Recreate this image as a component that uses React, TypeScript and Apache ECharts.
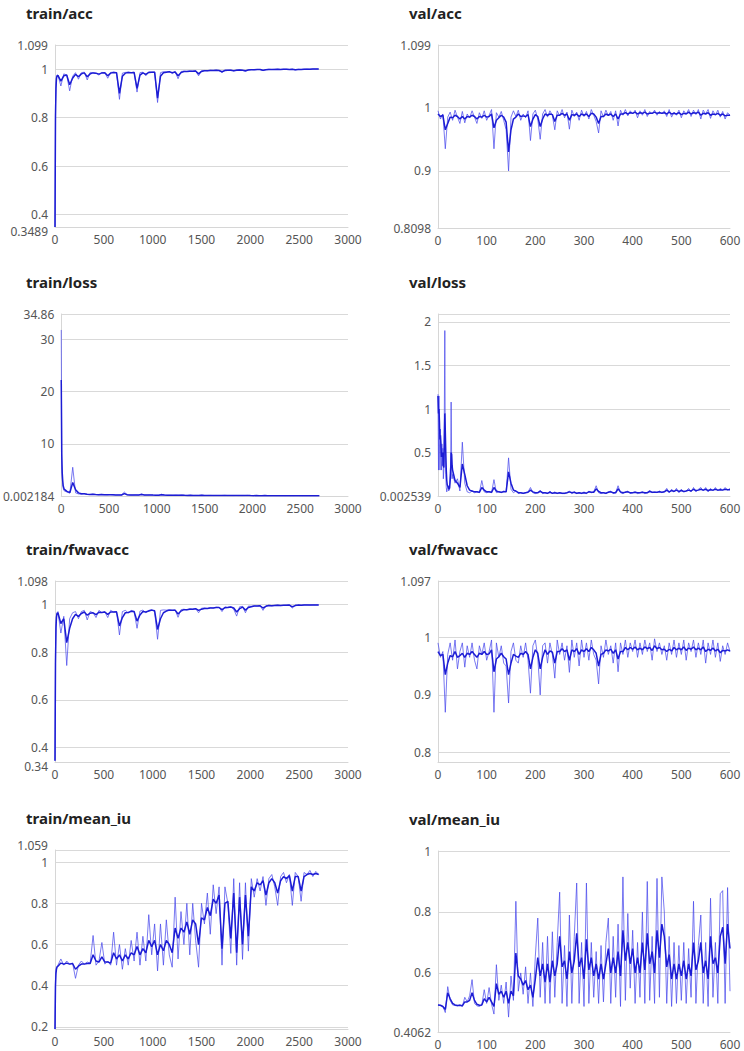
import React, { useEffect, useRef } from "react";
import * as echarts from "echarts";

const steps = (a: number, b: number, s: number): number[] => {
  const r: number[] = [];
  for (let v = a; v <= b + 1e-9; v += s) r.push(v);
  return r;
};

// x grids (step / epoch numbers)
const TRAIN_STEPS = [0, 5, 10, 15, 20, ...steps(30, 2700, 30)];
const VAL_EPOCHS = steps(0, 600, 5);
const VAL_LOSS_EPOCHS = [...steps(0, 30, 1), ...steps(35, 600, 5)];

// ---------- train/acc ----------
const trainAccRaw = [
  0.3489, 0.85, 0.94, 0.97, 0.975,
  0.975, 0.93, 0.98, 0.975, 0.91, 0.97, 0.985, 0.958, 0.985, 0.987,
  0.955, 0.986, 0.985, 0.982, 0.975, 0.986, 0.985, 0.962, 0.986, 0.987,
  0.985, 0.875, 0.983, 0.986, 0.987, 0.985, 0.987, 0.905, 0.985, 0.987,
  0.972, 0.988, 0.987, 0.988, 0.862, 0.985, 0.989, 0.988, 0.99, 0.981,
  0.99, 0.96, 0.99, 0.991, 0.99, 0.992, 0.991, 0.993, 0.972, 0.993,
  0.994, 0.993, 0.995, 0.994, 0.995, 0.994, 0.985, 0.996, 0.995, 0.996,
  0.992, 0.996, 0.997, 0.995, 0.99, 0.997, 0.998, 0.997, 0.998, 0.998,
  0.993, 0.998, 0.999, 0.998, 0.999, 0.999, 0.998, 0.999, 0.999, 0.998,
  0.999, 0.996, 0.999, 0.998, 0.999, 1.0, 0.999, 1.0, 1.0, 1.0,
];
const trainAccSmooth = [
  0.3489, 0.8, 0.92, 0.96, 0.97,
  0.974, 0.95, 0.972, 0.975, 0.935, 0.962, 0.978, 0.968, 0.98, 0.984,
  0.968, 0.98, 0.984, 0.983, 0.979, 0.984, 0.985, 0.972, 0.983, 0.986,
  0.985, 0.9, 0.97, 0.983, 0.986, 0.985, 0.986, 0.92, 0.975, 0.984,
  0.978, 0.986, 0.987, 0.987, 0.88, 0.97, 0.985, 0.987, 0.989, 0.985,
  0.988, 0.972, 0.985, 0.99, 0.99, 0.991, 0.991, 0.992, 0.98, 0.99,
  0.993, 0.993, 0.994, 0.994, 0.995, 0.994, 0.989, 0.994, 0.995, 0.995,
  0.993, 0.995, 0.996, 0.995, 0.993, 0.996, 0.997, 0.997, 0.998, 0.998,
  0.995, 0.997, 0.998, 0.998, 0.998, 0.999, 0.998, 0.999, 0.999, 0.998,
  0.999, 0.997, 0.998, 0.998, 0.999, 0.999, 0.999, 1.0, 1.0, 1.0,
];
const trainAccLabels = [0.3489, 0.4, 0.6, 0.8, 1, 1.099];

// ---------- val/acc ----------
const valAccRaw = [
  0.995, 0.982, 0.99, 0.935, 0.985, 0.993, 0.98, 0.996, 0.985, 0.975,
  0.994, 0.976, 0.99, 0.984, 0.995, 0.985, 0.975, 0.992, 0.983, 0.995,
  0.98, 0.988, 0.997, 0.935, 0.992, 0.985, 0.994, 0.98, 0.965, 0.9,
  0.985, 0.995, 0.986, 0.996, 0.98, 0.99, 0.984, 0.995, 0.948, 0.99,
  0.996, 0.982, 0.95, 0.99, 0.997, 0.985, 0.995, 0.988, 0.965, 0.995,
  0.987, 0.997, 0.984, 0.993, 0.966, 0.996, 0.986, 0.993, 0.98, 0.996,
  0.986, 0.994, 0.982, 0.997, 0.988, 0.978, 0.96, 0.995, 0.985, 0.996,
  0.987, 0.994, 0.98, 0.995, 0.971, 0.996, 0.988, 0.997, 0.987, 0.995,
  0.99, 0.996, 0.984, 0.995, 0.988, 0.997, 0.986, 0.994, 0.99, 0.996,
  0.988, 0.994, 0.99, 0.995, 0.986, 0.997, 0.985, 0.993, 0.988, 0.996,
  0.984, 0.995, 0.99, 0.997, 0.986, 0.996, 0.989, 0.997, 0.982, 0.996,
  0.99, 0.997, 0.983, 0.995, 0.988, 0.996, 0.985, 0.994, 0.982, 0.992,
  0.988,
];
const valAccSmooth = [
  0.99, 0.986, 0.988, 0.965, 0.975, 0.985, 0.984, 0.988, 0.986, 0.982,
  0.986, 0.982, 0.986, 0.985, 0.988, 0.986, 0.982, 0.986, 0.985, 0.988,
  0.985, 0.986, 0.99, 0.968, 0.98, 0.984, 0.988, 0.985, 0.977, 0.93,
  0.965, 0.982, 0.985, 0.99, 0.986, 0.987, 0.986, 0.989, 0.97, 0.982,
  0.989, 0.986, 0.97, 0.982, 0.99, 0.988, 0.99, 0.989, 0.978, 0.988,
  0.988, 0.991, 0.988, 0.99, 0.98, 0.989, 0.988, 0.99, 0.986, 0.99,
  0.988, 0.99, 0.986, 0.991, 0.99, 0.985, 0.975, 0.986, 0.986, 0.99,
  0.988, 0.99, 0.986, 0.99, 0.982, 0.99, 0.99, 0.992, 0.99, 0.992,
  0.991, 0.993, 0.99, 0.992, 0.991, 0.993, 0.99, 0.991, 0.991, 0.993,
  0.991, 0.992, 0.991, 0.992, 0.99, 0.993, 0.99, 0.991, 0.99, 0.992,
  0.989, 0.991, 0.99, 0.993, 0.99, 0.992, 0.991, 0.993, 0.988, 0.991,
  0.99, 0.992, 0.988, 0.99, 0.989, 0.991, 0.988, 0.99, 0.987, 0.988,
  0.988,
];
const valAccLabels = [0.8098, 0.9, 1, 1.099];

// ---------- train/loss ----------
const trainLossRaw = [
  31.8, 6.0, 3.5, 2.2, 1.5,
  1.0, 0.75, 0.55, 5.5, 0.6, 0.4, 0.35, 0.45, 0.3, 0.28,
  0.35, 0.27, 0.25, 0.3, 0.24, 0.22, 0.28, 0.22, 0.2, 0.21,
  0.2, 0.75, 0.22, 0.19, 0.18, 0.2, 0.17, 0.4, 0.18, 0.17,
  0.2, 0.16, 0.15, 0.16, 0.35, 0.15, 0.14, 0.15, 0.13, 0.16,
  0.13, 0.2, 0.12, 0.12, 0.13, 0.11, 0.12, 0.11, 0.16, 0.1,
  0.1, 0.11, 0.09, 0.1, 0.09, 0.1, 0.13, 0.09, 0.09, 0.08,
  0.1, 0.08, 0.08, 0.09, 0.11, 0.07, 0.07, 0.08, 0.07, 0.07,
  0.09, 0.06, 0.06, 0.07, 0.06, 0.06, 0.06, 0.05, 0.06, 0.05,
  0.05, 0.07, 0.05, 0.05, 0.05, 0.045, 0.05, 0.04, 0.04, 0.04,
];
const trainLossSmooth = [
  22.2, 8.0, 4.5, 3.0, 2.0,
  1.3, 0.9, 0.65, 2.6, 1.2, 0.6, 0.45, 0.45, 0.35, 0.3,
  0.32, 0.28, 0.26, 0.28, 0.25, 0.23, 0.25, 0.23, 0.21, 0.21,
  0.2, 0.45, 0.25, 0.2, 0.19, 0.19, 0.18, 0.28, 0.2, 0.18,
  0.19, 0.17, 0.16, 0.16, 0.25, 0.18, 0.15, 0.15, 0.14, 0.15,
  0.14, 0.16, 0.13, 0.12, 0.13, 0.12, 0.12, 0.11, 0.13, 0.11,
  0.1, 0.1, 0.1, 0.1, 0.09, 0.1, 0.11, 0.1, 0.09, 0.09,
  0.09, 0.08, 0.08, 0.09, 0.1, 0.08, 0.07, 0.08, 0.07, 0.07,
  0.08, 0.07, 0.06, 0.07, 0.06, 0.06, 0.06, 0.055, 0.06, 0.05,
  0.05, 0.06, 0.05, 0.05, 0.05, 0.045, 0.05, 0.04, 0.04, 0.04,
];
const trainLossLabels = [0.002184, 10, 20, 30, 34.86];

// ---------- val/loss ----------
const valLossRaw = [
  1.17, 0.3, 1.15, 0.6, 0.3, 0.77, 0.45, 0.3, 0.6, 0.35,
  0.55, 0.2, 0.3, 0.95, 1.9, 0.5, 0.25, 0.1, 0.05, 0.08,
  0.12, 0.1, 0.06, 0.08, 0.15, 0.3, 0.35, 1.08, 0.45, 0.2,
  0.25,
  0.15, 0.2, 0.06, 0.62, 0.15, 0.05, 0.04, 0.06, 0.04, 0.05,
  0.04, 0.18, 0.05, 0.04, 0.05, 0.04, 0.19, 0.04, 0.05, 0.04,
  0.06, 0.05, 0.44, 0.08, 0.04, 0.06, 0.03, 0.04, 0.03, 0.04,
  0.05, 0.1, 0.04, 0.03, 0.04, 0.07, 0.03, 0.04, 0.03, 0.06,
  0.03, 0.05, 0.03, 0.04, 0.03, 0.03, 0.04, 0.06, 0.03, 0.05,
  0.03, 0.04, 0.03, 0.05, 0.03, 0.06, 0.04, 0.05, 0.12, 0.04,
  0.03, 0.04, 0.03, 0.05, 0.06, 0.03, 0.04, 0.12, 0.04, 0.03,
  0.05, 0.06, 0.03, 0.04, 0.05, 0.03, 0.04, 0.05, 0.03, 0.04,
  0.07, 0.04, 0.05, 0.04, 0.06, 0.04, 0.05, 0.09, 0.04, 0.08,
  0.05, 0.09, 0.04, 0.08, 0.05, 0.06, 0.09, 0.05, 0.1, 0.05,
  0.08, 0.1, 0.06, 0.1, 0.05, 0.09, 0.06, 0.1, 0.06, 0.09,
  0.07, 0.1, 0.07, 0.09,
];
const valLossSmooth = [
  1.15, 0.95, 1.0, 0.85, 0.65, 0.7, 0.6, 0.45, 0.5, 0.45,
  0.5, 0.35, 0.33, 0.6, 0.95, 0.75, 0.5, 0.3, 0.18, 0.13,
  0.12, 0.11, 0.09, 0.08, 0.1, 0.18, 0.25, 0.5, 0.48, 0.35,
  0.3,
  0.18, 0.15, 0.1, 0.37, 0.25, 0.12, 0.07, 0.06, 0.05, 0.05,
  0.045, 0.1, 0.07, 0.05, 0.05, 0.045, 0.1, 0.06, 0.05, 0.045,
  0.05, 0.05, 0.28, 0.15, 0.07, 0.06, 0.04, 0.04, 0.035, 0.04,
  0.045, 0.07, 0.05, 0.04, 0.04, 0.055, 0.04, 0.04, 0.035, 0.045,
  0.035, 0.04, 0.035, 0.04, 0.035, 0.035, 0.04, 0.05, 0.04, 0.045,
  0.035, 0.04, 0.035, 0.04, 0.035, 0.05, 0.045, 0.045, 0.085, 0.055,
  0.04, 0.04, 0.035, 0.045, 0.05, 0.04, 0.04, 0.085, 0.05, 0.04,
  0.045, 0.05, 0.04, 0.04, 0.045, 0.04, 0.04, 0.045, 0.04, 0.04,
  0.055, 0.045, 0.045, 0.045, 0.05, 0.045, 0.05, 0.07, 0.05, 0.065,
  0.055, 0.07, 0.055, 0.065, 0.055, 0.06, 0.07, 0.06, 0.08, 0.065,
  0.07, 0.08, 0.07, 0.08, 0.065, 0.075, 0.07, 0.08, 0.07, 0.075,
  0.07, 0.08, 0.075, 0.075,
];
const valLossLabels = [0.002539, 0.5, 1, 1.5, 2];

// ---------- train/fwavacc ----------
const trainFwRaw = [
  0.345, 0.8, 0.92, 0.955, 0.965,
  0.97, 0.88, 0.95, 0.744, 0.94, 0.965, 0.97, 0.94, 0.97, 0.975,
  0.935, 0.97, 0.965, 0.945, 0.975, 0.965, 0.97, 0.945, 0.975, 0.968,
  0.97, 0.872, 0.97, 0.975, 0.965, 0.975, 0.97, 0.9, 0.972, 0.976,
  0.965, 0.975, 0.978, 0.97, 0.854, 0.975, 0.977, 0.976, 0.978, 0.975,
  0.977, 0.946, 0.978, 0.98, 0.977, 0.982, 0.98, 0.983, 0.965, 0.984,
  0.985, 0.983, 0.987, 0.985, 0.988, 0.987, 0.97, 0.99, 0.988, 0.99,
  0.98, 0.951, 0.99, 0.992, 0.965, 0.993, 0.992, 0.994, 0.993, 0.995,
  0.975, 0.995, 0.996, 0.994, 0.996, 0.997, 0.995, 0.996, 0.997, 0.997,
  0.985, 0.997, 0.998, 0.996, 0.998, 0.998, 0.997, 0.998, 0.998, 0.998,
];
const trainFwSmooth = [
  0.345, 0.75, 0.9, 0.945, 0.96,
  0.965, 0.92, 0.94, 0.84, 0.9, 0.94, 0.958, 0.95, 0.962, 0.968,
  0.955, 0.963, 0.965, 0.957, 0.967, 0.966, 0.968, 0.958, 0.968, 0.968,
  0.969, 0.91, 0.945, 0.965, 0.966, 0.971, 0.97, 0.93, 0.956, 0.97,
  0.968, 0.972, 0.976, 0.973, 0.895, 0.94, 0.965, 0.972, 0.976, 0.975,
  0.976, 0.96, 0.972, 0.978, 0.978, 0.98, 0.98, 0.982, 0.975, 0.98,
  0.983, 0.983, 0.985, 0.985, 0.987, 0.987, 0.978, 0.986, 0.987, 0.989,
  0.985, 0.968, 0.982, 0.989, 0.976, 0.987, 0.99, 0.993, 0.993, 0.994,
  0.985, 0.992, 0.995, 0.994, 0.995, 0.996, 0.995, 0.996, 0.996, 0.997,
  0.99, 0.995, 0.997, 0.996, 0.997, 0.998, 0.997, 0.998, 0.998, 0.998,
];
const trainFwLabels = [0.34, 0.4, 0.6, 0.8, 1, 1.098];

// ---------- val/fwavacc ----------
const valFwRaw = [
  0.99, 0.965, 0.975, 0.87, 0.97, 0.99, 0.96, 0.995, 0.945, 0.975,
  0.99, 0.948, 0.985, 0.965, 0.99, 0.96, 0.945, 0.985, 0.97, 0.99,
  0.96, 0.975, 0.995, 0.87, 0.99, 0.965, 0.985, 0.955, 0.95, 0.886,
  0.975, 0.99, 0.96, 0.955, 0.985, 0.965, 0.99, 0.96, 0.903, 0.985,
  0.995, 0.965, 0.9, 0.985, 0.99, 0.955, 0.99, 0.97, 0.929, 0.995,
  0.97, 0.99, 0.96, 0.985, 0.939, 0.995, 0.965, 0.99, 0.95, 0.995,
  0.965, 0.99, 0.96, 0.995, 0.97, 0.96, 0.919, 0.985, 0.965, 0.995,
  0.97, 0.985, 0.955, 0.99, 0.94, 0.99, 0.97, 0.995, 0.965, 0.99,
  0.975, 0.995, 0.965, 0.99, 0.97, 0.995, 0.975, 0.99, 0.96, 0.997,
  0.975, 0.99, 0.97, 0.985, 0.96, 0.99, 0.97, 0.995, 0.965, 0.99,
  0.97, 0.995, 0.96, 0.99, 0.975, 0.995, 0.965, 0.99, 0.97, 0.995,
  0.955, 0.99, 0.97, 0.995, 0.965, 0.99, 0.958, 0.985, 0.97, 0.99,
  0.975,
];
const valFwSmooth = [
  0.975, 0.968, 0.97, 0.935, 0.955, 0.968, 0.966, 0.975, 0.965, 0.968,
  0.972, 0.965, 0.972, 0.97, 0.975, 0.97, 0.965, 0.972, 0.97, 0.975,
  0.97, 0.971, 0.978, 0.94, 0.962, 0.966, 0.972, 0.966, 0.962, 0.935,
  0.955, 0.97, 0.967, 0.965, 0.972, 0.97, 0.975, 0.97, 0.945, 0.965,
  0.978, 0.972, 0.945, 0.965, 0.978, 0.97, 0.976, 0.974, 0.955, 0.975,
  0.975, 0.98, 0.975, 0.978, 0.96, 0.978, 0.975, 0.98, 0.97, 0.978,
  0.975, 0.98, 0.975, 0.982, 0.978, 0.972, 0.95, 0.97, 0.972, 0.978,
  0.976, 0.979, 0.972, 0.978, 0.962, 0.975, 0.975, 0.982, 0.978, 0.982,
  0.979, 0.983, 0.978, 0.981, 0.978, 0.983, 0.98, 0.982, 0.977, 0.985,
  0.98, 0.982, 0.978, 0.979, 0.975, 0.979, 0.976, 0.982, 0.978, 0.981,
  0.978, 0.983, 0.977, 0.981, 0.979, 0.983, 0.978, 0.981, 0.978, 0.983,
  0.975, 0.979, 0.977, 0.981, 0.976, 0.979, 0.973, 0.977, 0.976, 0.978,
  0.976,
];
const valFwLabels = [0.8, 0.9, 1, 1.097];

// ---------- train/mean_iu ----------
const trainIuRaw = [
  0.19, 0.45, 0.48, 0.49, 0.49,
  0.5, 0.53, 0.5, 0.52, 0.505, 0.51, 0.436, 0.5, 0.52, 0.505,
  0.515, 0.51, 0.644, 0.5, 0.52, 0.61, 0.505, 0.52, 0.5, 0.66,
  0.5, 0.6, 0.48, 0.58, 0.5, 0.62, 0.52, 0.66, 0.5, 0.64,
  0.52, 0.745, 0.55, 0.7, 0.472, 0.7, 0.5, 0.72, 0.55, 0.49,
  0.83, 0.53, 0.76, 0.6, 0.8, 0.55, 0.8, 0.62, 0.49, 0.8,
  0.7, 0.85, 0.65, 0.89, 0.75, 0.88, 0.5, 0.88, 0.8, 0.557,
  0.92, 0.5, 0.9, 0.528, 0.9, 0.568, 0.92, 0.83, 0.92, 0.86,
  0.93, 0.79, 0.92, 0.94, 0.88, 0.79, 0.93, 0.95, 0.9, 0.94,
  0.79, 0.95, 0.93, 0.81, 0.95, 0.94, 0.96, 0.93, 0.955, 0.94,
];
const trainIuSmooth = [
  0.19, 0.4, 0.46, 0.48, 0.49,
  0.495, 0.51, 0.505, 0.51, 0.505, 0.508, 0.48, 0.495, 0.505, 0.505,
  0.508, 0.508, 0.55, 0.52, 0.515, 0.54, 0.515, 0.515, 0.51, 0.56,
  0.53, 0.55, 0.52, 0.55, 0.53, 0.56, 0.55, 0.59, 0.55, 0.58,
  0.56, 0.62, 0.59, 0.62, 0.55, 0.6, 0.57, 0.62, 0.6, 0.56,
  0.68, 0.63, 0.68, 0.66, 0.71, 0.65, 0.72, 0.7, 0.6, 0.73,
  0.72, 0.78, 0.74, 0.82, 0.8, 0.84, 0.58, 0.8, 0.81, 0.63,
  0.85, 0.56, 0.83, 0.6, 0.84, 0.64, 0.88, 0.86, 0.9, 0.89,
  0.91, 0.84, 0.9, 0.92, 0.9, 0.85, 0.91, 0.93, 0.92, 0.935,
  0.86, 0.93, 0.93, 0.86, 0.93, 0.94, 0.945, 0.94, 0.945, 0.94,
];
const trainIuLabels = [0.2, 0.4, 0.6, 0.8, 1, 1.059];

// ---------- val/mean_iu ----------
const valIuRaw = [
  0.495, 0.493, 0.49, 0.47, 0.555, 0.51, 0.495, 0.493, 0.492, 0.495,
  0.49, 0.52, 0.505, 0.525, 0.578, 0.5, 0.492, 0.49, 0.495, 0.545,
  0.5, 0.552, 0.498, 0.465, 0.627, 0.51, 0.56, 0.5, 0.57, 0.455,
  0.59, 0.51, 0.835, 0.54, 0.6, 0.53, 0.62, 0.5, 0.6, 0.49,
  0.655, 0.78, 0.52, 0.7, 0.5, 0.72, 0.5, 0.735, 0.52, 0.7,
  0.865, 0.5, 0.69, 0.49, 0.79, 0.5, 0.72, 0.895, 0.5, 0.7,
  0.49, 0.895, 0.5, 0.7, 0.52, 0.67, 0.5, 0.69, 0.505, 0.7,
  0.78, 0.5, 0.72, 0.52, 0.76, 0.49, 0.915, 0.51, 0.795, 0.55,
  0.74, 0.5, 0.7, 0.52, 0.8, 0.5, 0.9, 0.51, 0.72, 0.5,
  0.91, 0.52, 0.915, 0.8, 0.5, 0.72, 0.49, 0.7, 0.5, 0.69,
  0.51, 0.7, 0.5, 0.68, 0.52, 0.835, 0.5, 0.69, 0.79, 0.5,
  0.7, 0.49, 0.845, 0.52, 0.7, 0.5, 0.86, 0.87, 0.5, 0.88,
  0.54,
];
const valIuSmooth = [
  0.495, 0.494, 0.49, 0.48, 0.535, 0.515, 0.5, 0.495, 0.493, 0.494,
  0.492, 0.505, 0.505, 0.51, 0.535, 0.51, 0.497, 0.494, 0.495, 0.515,
  0.505, 0.52, 0.505, 0.49, 0.565, 0.53, 0.54, 0.52, 0.54, 0.5,
  0.54, 0.525, 0.665, 0.59, 0.58, 0.56, 0.575, 0.545, 0.56, 0.52,
  0.58, 0.65, 0.59, 0.63, 0.57, 0.63, 0.57, 0.64, 0.59, 0.63,
  0.72, 0.62, 0.64, 0.58, 0.67, 0.6, 0.64, 0.73, 0.62, 0.65,
  0.58, 0.71, 0.61, 0.65, 0.59, 0.63, 0.58, 0.63, 0.58, 0.63,
  0.68, 0.6, 0.65, 0.6, 0.67, 0.59, 0.74, 0.64, 0.7, 0.63,
  0.68, 0.6, 0.65, 0.6, 0.7, 0.61, 0.73, 0.63, 0.67, 0.6,
  0.74, 0.65, 0.76, 0.72, 0.62, 0.66, 0.58, 0.63, 0.58, 0.63,
  0.59, 0.64, 0.58, 0.63, 0.59, 0.7, 0.61, 0.64, 0.7, 0.6,
  0.64, 0.58, 0.72, 0.63, 0.65, 0.6, 0.72, 0.75, 0.63, 0.76,
  0.68,
];
const valIuLabels = [0.4062, 0.6, 0.8, 1];

type Panel = {
  title: string;
  xs: number[];
  raw: number[];
  smooth: number[];
  yMin: number;
  yMax: number;
  yLabels: number[];
  xMax: number;
  xInterval: number;
  left: number;
  top: number;
  width: number;
  height: number;
  nudgeMin?: boolean;
  nudgeMax?: boolean;
};

const PANELS: Panel[] = [
  { title: "train/acc", xs: TRAIN_STEPS, raw: trainAccRaw, smooth: trainAccSmooth, yMin: 0.3489, yMax: 1.099, yLabels: trainAccLabels, xMax: 3000, xInterval: 500, left: 55, top: 45, width: 293, height: 182, nudgeMin: true },
  { title: "val/acc", xs: VAL_EPOCHS, raw: valAccRaw, smooth: valAccSmooth, yMin: 0.8098, yMax: 1.099, yLabels: valAccLabels, xMax: 600, xInterval: 100, left: 438, top: 45, width: 292, height: 183 },
  { title: "train/loss", xs: TRAIN_STEPS, raw: trainLossRaw, smooth: trainLossSmooth, yMin: 0.002184, yMax: 34.86, yLabels: trainLossLabels, xMax: 3000, xInterval: 500, left: 55, top: 314, width: 293, height: 182 },
  { title: "val/loss", xs: VAL_LOSS_EPOCHS, raw: valLossRaw, smooth: valLossSmooth, yMin: 0.002539, yMax: 2.09, yLabels: valLossLabels, xMax: 600, xInterval: 100, left: 438, top: 314, width: 292, height: 182 },
  { title: "train/fwavacc", xs: TRAIN_STEPS, raw: trainFwRaw, smooth: trainFwSmooth, yMin: 0.34, yMax: 1.098, yLabels: trainFwLabels, xMax: 3000, xInterval: 500, left: 55, top: 581, width: 293, height: 181, nudgeMin: true },
  { title: "val/fwavacc", xs: VAL_EPOCHS, raw: valFwRaw, smooth: valFwSmooth, yMin: 0.784, yMax: 1.097, yLabels: valFwLabels, xMax: 600, xInterval: 100, left: 438, top: 581, width: 292, height: 181 },
  { title: "train/mean_iu", xs: TRAIN_STEPS, raw: trainIuRaw, smooth: trainIuSmooth, yMin: 0.19, yMax: 1.059, yLabels: trainIuLabels, xMax: 3000, xInterval: 500, left: 55, top: 850, width: 293, height: 179, nudgeMax: true },
  { title: "val/mean_iu", xs: VAL_EPOCHS, raw: valIuRaw, smooth: valIuSmooth, yMin: 0.4062, yMax: 1, yLabels: valIuLabels, xMax: 600, xInterval: 100, left: 438, top: 851, width: 292, height: 181 },
];

const FONT = "'Noto Sans', 'Open Sans', sans-serif";
const RAW_COLOR = "rgba(70, 70, 235, 0.72)";
const SMOOTH_COLOR = "#1c1cd4";

export default function App() {
  const ref = useRef<HTMLDivElement>(null);

  useEffect(() => {
    if (!ref.current) return;
    const chart = echarts.init(ref.current, undefined, { renderer: "svg" });

    const grid: any[] = [];
    const xAxis: any[] = [];
    const yAxis: any[] = [];
    const series: any[] = [];
    const title: any[] = [];

    const labelBase = { color: "#555", fontSize: 12, fontFamily: FONT };

    PANELS.forEach((p, i) => {
      title.push({
        text: p.title,
        left: p.left < 200 ? 21 : 404,
        top: p.top - 45,
        textStyle: { fontFamily: FONT, fontSize: 15, fontWeight: "bold", color: "#222" },
      });
      grid.push({ left: p.left, top: p.top, width: p.width, height: p.height, containLabel: false });
      xAxis.push({
        type: "value",
        gridIndex: i,
        min: 0,
        max: p.xMax,
        interval: p.xInterval,
        axisLine: { show: true, lineStyle: { color: "#d6d6d6" } },
        axisTick: { show: false },
        splitLine: { show: false },
        axisLabel: {
          ...labelBase,
          margin: 6,
          formatter: (v: number) => String(v),
        },
      });
      yAxis.push({
        type: "value",
        gridIndex: i,
        min: p.yMin,
        max: p.yMax,
        axisLine: { show: true, lineStyle: { color: "#d6d6d6" } },
        axisTick: { show: false, customValues: [...p.yLabels, p.yMax] },
        splitLine: { show: true, lineStyle: { color: "#d9d9d9", width: 1 } },
        axisLabel: {
          ...labelBase,
          customValues: p.yLabels,
          margin: 7,
          showMinLabel: true,
          showMaxLabel: true,
          formatter: (v: number) => {
            if (p.nudgeMin && v === p.yMin) return `{lo|${v}}`;
            if (p.nudgeMax && v === p.yMax) return `{hi|${v}}`;
            return String(v);
          },
          rich: {
            lo: { ...labelBase, padding: [9, 0, 0, 0] },
            hi: { ...labelBase, padding: [0, 0, 9, 0] },
          },
        },
      });
      const raw = p.xs.map((x, k) => [x, p.raw[k]]);
      const sm = p.xs.map((x, k) => [x, p.smooth[k]]);
      series.push({
        type: "line",
        xAxisIndex: i,
        yAxisIndex: i,
        data: raw,
        showSymbol: false,
        symbol: "none",
        lineStyle: { color: RAW_COLOR, width: 1 },
        z: 2,
      });
      series.push({
        type: "line",
        xAxisIndex: i,
        yAxisIndex: i,
        data: sm,
        showSymbol: false,
        symbol: "none",
        lineStyle: { color: SMOOTH_COLOR, width: 1.5 },
        z: 3,
      });
    });

    chart.setOption({
      animation: false,
      backgroundColor: "#ffffff",
      title,
      grid,
      xAxis,
      yAxis,
      series,
    });

    return () => chart.dispose();
  }, []);

  return (
    <div
      ref={ref}
      style={{ position: "fixed", left: 0, top: 0, width: 744, height: 1051 }}
    />
  );
}
